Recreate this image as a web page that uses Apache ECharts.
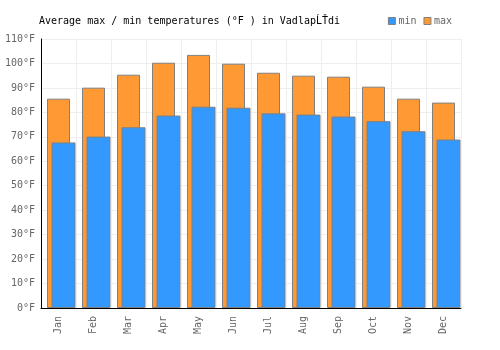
<!DOCTYPE html>
<html><head><meta charset="utf-8">
<script src="https://cdn.jsdelivr.net/npm/echarts@6/dist/echarts.min.js"></script>
<style>html,body{margin:0;padding:0;background:#fff}#c{width:500px;height:350px}</style>
</head><body><div id="c"></div>
<script>
const months = ['Jan','Feb','Mar','Apr','May','Jun','Jul','Aug','Sep','Oct','Nov','Dec'];
const maxTemps = [85.6, 90.1, 95.4, 100.3, 103.5, 99.9, 96.2, 95.0, 94.6, 90.5, 85.6, 84.0];
const minTemps = [67.7, 70.1, 73.9, 78.7, 82.3, 81.9, 79.6, 79.1, 78.3, 76.4, 72.3, 68.9];
const titleText = 'Average max / min temperatures (°F ) in VadlapĹŤdi';

const font = 'DejaVu Sans Mono';
const chart = echarts.init(document.getElementById('c'), null, {renderer:'canvas'});
chart.setOption({
  animation: false,
  backgroundColor: '#fff',
  title: {text: titleText, left: 34, top: 11, textStyle: {fontFamily: font, fontSize: 10, fontWeight: 'normal', color: '#000'}},
  legend: {
    right: 48, top: 16, itemWidth: 7, itemHeight: 7, itemGap: 7, padding: 0,
    textStyle: {fontFamily: font, fontSize: 10, color: '#666', padding: [0,0,0,-2]},
    itemStyle: {borderColor: '#808080', borderWidth: 1},
    data: [{name:'min', icon:'rect'}, {name:'max', icon:'rect'}]
  },
  grid: [
    {left: 41, right: 39, top: 39, bottom: 42},
    {left: 46, right: 34, top: 39, bottom: 42}
  ],
  xAxis: [
    {type:'category', data: months, gridIndex:0,
     axisLine:{lineStyle:{color:'#000'}}, axisTick:{show:false},
     axisLabel:{rotate:90, fontFamily:font, fontSize:10, color:'#666', margin:8},
     splitLine:{show:true, lineStyle:{color:'#eee'}}},
    {type:'category', data: months, gridIndex:1, show:false}
  ],
  yAxis: [
    {type:'value', min:0, max:110, interval:10, gridIndex:0,
     axisLine:{show:true, lineStyle:{color:'#000'}}, axisTick:{show:false},
     axisLabel:{formatter:'{value}°F', fontFamily:font, fontSize:10, color:'#666', margin:6},
     splitLine:{lineStyle:{color:'#eee'}}},
    {type:'value', min:0, max:110, interval:10, gridIndex:1, show:false, splitLine:{show:false}}
  ],
  series: [
    {name:'max', type:'bar', data: maxTemps, xAxisIndex:0, yAxisIndex:0, barWidth:23,
     itemStyle:{color:'#ff9933', borderColor:'#808080', borderWidth:1}},
    {name:'min', type:'bar', data: minTemps, xAxisIndex:1, yAxisIndex:1, barWidth:24,
     itemStyle:{color:'#3399ff', borderColor:'#808080', borderWidth:1}}
  ]
});
</script></body></html>
